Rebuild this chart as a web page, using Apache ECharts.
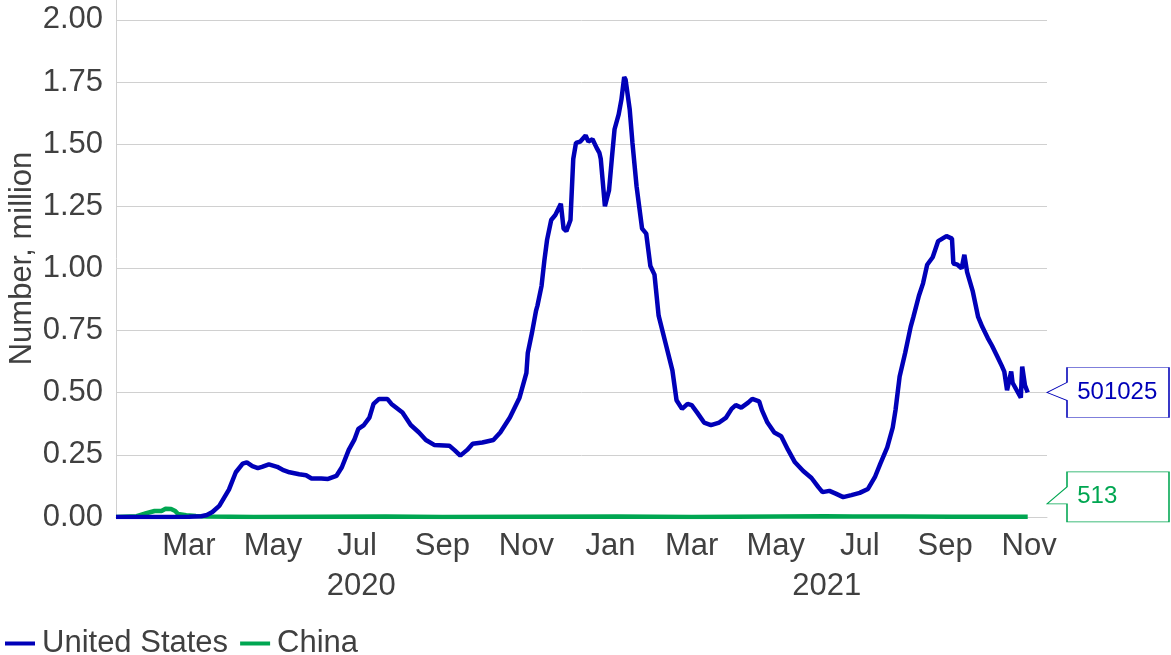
<!DOCTYPE html>
<html>
<head>
<meta charset="utf-8">
<script src="https://cdn.jsdelivr.net/npm/echarts@6/dist/echarts.min.js"></script>
<style>
  html, body { margin: 0; padding: 0; background: #fff; }
  #chart { width: 1171px; height: 655px; }
</style>
</head>
<body>
<div id="chart"></div>
<script>
// active cases, million
const usDates = [
  '2020-01-22', '2020-02-16', '2020-03-01', '2020-03-15', '2020-03-24', '2020-03-28',
  '2020-04-01', '2020-04-06', '2020-04-13', '2020-04-18', '2020-04-23', '2020-04-26',
  '2020-04-30', '2020-05-04', '2020-05-07', '2020-05-12', '2020-05-18', '2020-05-22',
  '2020-05-27', '2020-06-03', '2020-06-08', '2020-06-12', '2020-06-19', '2020-06-24',
  '2020-06-30', '2020-07-04', '2020-07-09', '2020-07-13', '2020-07-16', '2020-07-20',
  '2020-07-24', '2020-07-27', '2020-07-31', '2020-08-06', '2020-08-09', '2020-08-17',
  '2020-08-23', '2020-08-29', '2020-09-03', '2020-09-09', '2020-09-20', '2020-09-24',
  '2020-09-28', '2020-10-03', '2020-10-07', '2020-10-14', '2020-10-22', '2020-10-27',
  '2020-11-03', '2020-11-10', '2020-11-15', '2020-11-16', '2020-11-19', '2020-11-22',
  '2020-11-23', '2020-11-26', '2020-11-28', '2020-11-30', '2020-12-03', '2020-12-06',
  '2020-12-10', '2020-12-12', '2020-12-14', '2020-12-17', '2020-12-19', '2020-12-21',
  '2020-12-24', '2020-12-28', '2020-12-30', '2021-01-02', '2021-01-05', '2021-01-07',
  '2021-01-08', '2021-01-11', '2021-01-14', '2021-01-16', '2021-01-18', '2021-01-21',
  '2021-01-23', '2021-01-25', '2021-01-26', '2021-01-29', '2021-01-31', '2021-02-03',
  '2021-02-07', '2021-02-10', '2021-02-13', '2021-02-16', '2021-02-19', '2021-02-24',
  '2021-03-01', '2021-03-04', '2021-03-08', '2021-03-12', '2021-03-15', '2021-03-19',
  '2021-03-24', '2021-03-29', '2021-04-04', '2021-04-09', '2021-04-13', '2021-04-16',
  '2021-04-20', '2021-04-25', '2021-04-28', '2021-05-03', '2021-05-05', '2021-05-09',
  '2021-05-14', '2021-05-19', '2021-05-24', '2021-05-29', '2021-06-04', '2021-06-10',
  '2021-06-15', '2021-06-18', '2021-06-23', '2021-06-28', '2021-07-03', '2021-07-09',
  '2021-07-15', '2021-07-21', '2021-07-26', '2021-07-30', '2021-08-04', '2021-08-08',
  '2021-08-10', '2021-08-13', '2021-08-17', '2021-08-21', '2021-08-23', '2021-08-27',
  '2021-08-30', '2021-09-02', '2021-09-06', '2021-09-10', '2021-09-13', '2021-09-16',
  '2021-09-20', '2021-09-21', '2021-09-24', '2021-09-27', '2021-09-29', '2021-10-01',
  '2021-10-05', '2021-10-09', '2021-10-12', '2021-10-16', '2021-10-19', '2021-10-23',
  '2021-10-26', '2021-10-28', '2021-10-30', '2021-11-02', '2021-11-03', '2021-11-06',
  '2021-11-09', '2021-11-10', '2021-11-12', '2021-11-14'
];
const usValues = [
  0.0000, 0.0000, 0.0001, 0.001, 0.003, 0.008,
  0.020, 0.045, 0.11, 0.18, 0.215, 0.22,
  0.205, 0.197, 0.202, 0.212, 0.202, 0.19,
  0.18, 0.172, 0.168, 0.155, 0.155, 0.153,
  0.165, 0.20, 0.27, 0.31, 0.355, 0.37,
  0.40, 0.455, 0.475, 0.475, 0.455, 0.42,
  0.37, 0.34, 0.31, 0.29, 0.287, 0.268,
  0.247, 0.27, 0.295, 0.30, 0.31, 0.34,
  0.40, 0.48, 0.58, 0.66, 0.74, 0.83,
  0.85, 0.93, 1.03, 1.115, 1.195, 1.215,
  1.26, 1.16, 1.15, 1.195, 1.44, 1.505,
  1.51, 1.535, 1.51, 1.52, 1.485, 1.465,
  1.44, 1.25, 1.315, 1.44, 1.56, 1.62,
  1.68, 1.77, 1.76, 1.64, 1.505, 1.33,
  1.16, 1.14, 1.01, 0.975, 0.81, 0.70,
  0.59, 0.47, 0.435, 0.455, 0.45, 0.42,
  0.38, 0.37, 0.38, 0.40, 0.435, 0.45,
  0.44, 0.46, 0.475, 0.465, 0.43, 0.38,
  0.34, 0.325, 0.27, 0.22, 0.185, 0.157,
  0.12, 0.10, 0.105, 0.093, 0.08, 0.088,
  0.097, 0.113, 0.16, 0.215, 0.28, 0.36,
  0.43, 0.565, 0.66, 0.765, 0.805, 0.89,
  0.94, 1.015, 1.045, 1.11, 1.12, 1.13,
  1.12, 1.02, 1.015, 1.00, 1.055, 0.985,
  0.91, 0.805, 0.765, 0.72, 0.69, 0.645,
  0.61, 0.585, 0.51, 0.585, 0.54, 0.51,
  0.48, 0.605, 0.53, 0.501025
];

const chinaDates = [
  '2020-01-22', '2020-02-06', '2020-02-13', '2020-02-19', '2020-02-24', '2020-02-27',
  '2020-03-02', '2020-03-05', '2020-03-07', '2020-03-13', '2020-03-20', '2020-03-28',
  '2020-05-01', '2020-08-05', '2020-09-15', '2021-01-20', '2021-03-15', '2021-06-20',
  '2021-07-10', '2021-08-15', '2021-09-20', '2021-11-14'
];
const chinaValues = [
  0.0005, 0.003, 0.015, 0.024, 0.024, 0.033,
  0.032, 0.024, 0.012, 0.007, 0.004, 0.002,
  0.0005, 0.002, 0.0005, 0.002, 0.0005, 0.003,
  0.002, 0.002, 0.001, 0.000513
];

// latest counts shown in the end callouts
const usLatest = 501025;
const chinaLatest = 513;

const monthTickDates = [
  '2020-03-15', '2020-05-15', '2020-07-15', '2020-09-15', '2020-11-15',
  '2021-01-15', '2021-03-15', '2021-05-15', '2021-07-15', '2021-09-15', '2021-11-15'
];
const monthTickLabels = ['Mar', 'May', 'Jul', 'Sep', 'Nov', 'Jan', 'Mar', 'May', 'Jul', 'Sep', 'Nov'];
const yearTickDates = ['2020-07-18', '2021-06-21'];
const yearTickLabels = ['2020', '2021'];

const xStart = '2020-01-22';
const xEnd = '2021-11-28';

const US_COLOR = '#0000b8';
const CN_COLOR = '#00a651';
const TEXT = '#404040';
const FONT = 'Liberation Sans, Arial, sans-serif';
const FS = 31;

function toTime(s) {
  const p = s.split('-').map(Number);
  return Date.UTC(p[0], p[1] - 1, p[2]);
}
const monthTicks = monthTickDates.map(toTime);
const yearTicks = yearTickDates.map(toTime);

// callout shape: box with a pointer on the left side
const usCallout = 'path://M20 0L122 0L122 50L20 50L20 33L0 25L20 15Z';
const cnCallout = 'path://M20 0L122 0L122 50L20 50L20 32L0 32L20 15Z';

function callout(path, color, value, offset) {
  return {
    silent: true,
    data: [{ coord: [toTime(xEnd), value / 1e6], value: value }],
    symbol: path,
    symbolSize: [122, 50],
    symbolOffset: offset,
    itemStyle: { color: '#fff', borderColor: color, borderWidth: 1 },
    label: {
      show: true,
      position: [31, 25],
      align: 'left',
      verticalAlign: 'middle',
      color: color,
      fontSize: 24,
      fontFamily: FONT,
      formatter: String(value)
    }
  };
}

function labelAxis(ticks, labels, offset, showLine, margin) {
  return {
    type: 'value',
    min: toTime(xStart),
    max: toTime(xEnd),
    position: 'bottom',
    offset: offset,
    axisLine: { show: showLine, lineStyle: { color: '#d0d0d0', width: 1 } },
    axisTick: { show: false },
    splitLine: { show: false },
    axisLabel: {
      customValues: ticks,
      fontSize: FS,
      color: TEXT,
      margin: margin,
      formatter: function (v) {
        const i = ticks.indexOf(v);
        return i >= 0 ? labels[i] : '';
      }
    }
  };
}

const chart = echarts.init(document.getElementById('chart'));
chart.setOption({
  animation: false,
  textStyle: { fontFamily: FONT },
  grid: { left: 116, right: 124, top: 0, bottom: 138, outerBoundsMode: 'none', containLabel: false },
  legend: {
    left: 0,
    top: 623,
    icon: 'rect',
    itemWidth: 30,
    itemHeight: 4,
    itemGap: 12,
    textStyle: { fontSize: FS, color: TEXT, fontFamily: FONT, padding: [0, 0, 0, 2] },
    data: ['United States', 'China']
  },
  xAxis: [
    labelAxis(monthTicks, monthTickLabels, 3, true, 11),
    labelAxis(yearTicks, yearTickLabels, 43, false, 11)
  ],
  yAxis: {
    type: 'value',
    min: 0,
    max: 2.08,
    interval: 0.25,
    name: 'Number, million',
    nameLocation: 'middle',
    nameGap: 78,
    nameMoveOverlap: false,
    nameTextStyle: { fontSize: FS, color: TEXT, fontFamily: FONT },
    axisLine: { show: true, lineStyle: { color: '#d0d0d0', width: 1 } },
    axisTick: { show: false },
    splitLine: {
      show: true,
      lineStyle: {
        color: ['#d0d0d0', '#d0d0d0', '#d0d0d0', '#d0d0d0', '#d0d0d0',
                '#d0d0d0', '#d0d0d0', '#d0d0d0', '#d0d0d0', 'rgba(0,0,0,0)'],
        width: 1
      }
    },
    axisLabel: {
      fontSize: FS,
      color: TEXT,
      margin: 13,
      showMaxLabel: false,
      formatter: function (v) { return v.toFixed(2); }
    }
  },
  series: [
    {
      name: 'United States',
      type: 'line',
      z: 3,
      showSymbol: false,
      symbol: 'none',
      color: US_COLOR,
      lineStyle: { width: 4.5, color: US_COLOR },
      data: usDates.map((d, i) => [toTime(d), usValues[i]]),
      markPoint: callout(usCallout, US_COLOR, usLatest, [61, 0])
    },
    {
      name: 'China',
      type: 'line',
      z: 2,
      showSymbol: false,
      symbol: 'none',
      color: CN_COLOR,
      lineStyle: { width: 4.5, color: CN_COLOR },
      data: chinaDates.map((d, i) => [toTime(d), chinaValues[i]]),
      markPoint: callout(cnCallout, CN_COLOR, chinaLatest, [61, -20])
    }
  ]
});
</script>
</body>
</html>
